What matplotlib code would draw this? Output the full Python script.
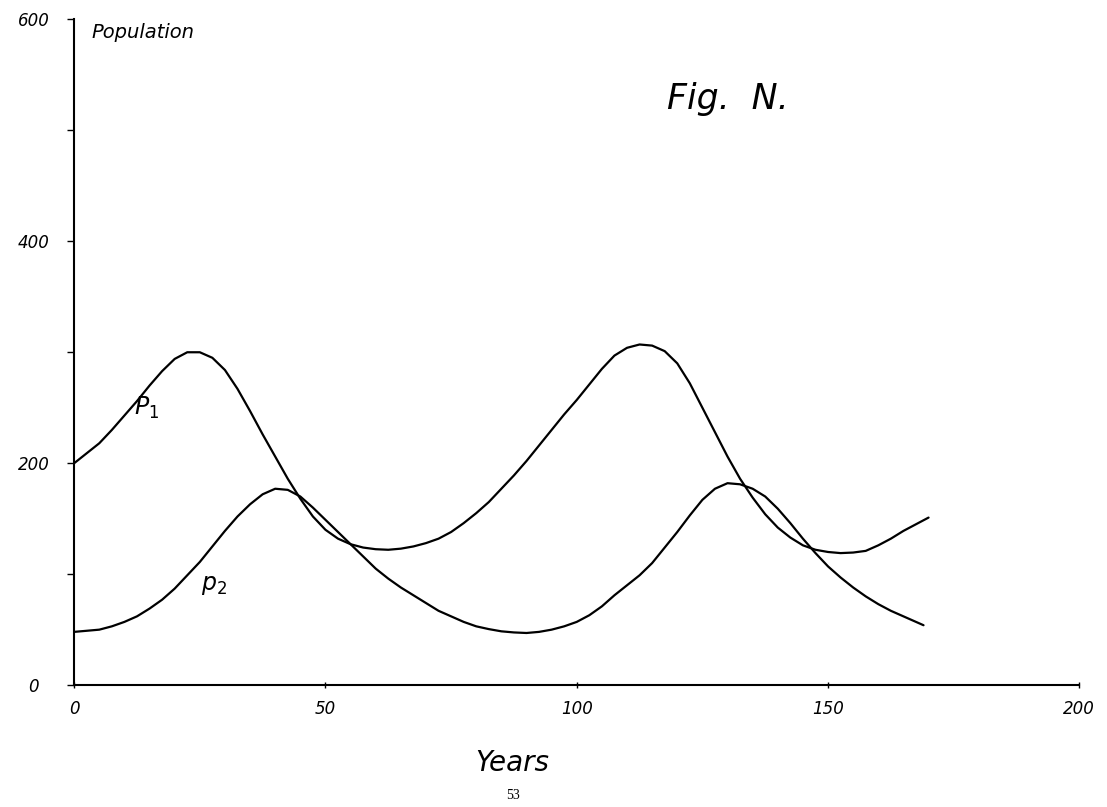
import numpy as np
import matplotlib.pyplot as plt

# ==================== 数据 ====================
p1_years = [0, 2.5, 5, 7.5, 10, 12.5, 15, 17.5, 20, 22.5, 25, 27.5, 30, 32.5, 35,
            37.5, 40, 42.5, 45, 47.5, 50, 52.5, 55, 57.5, 60, 62.5, 65, 67.5, 70,
            72.5, 75, 77.5, 80, 82.5, 85, 87.5, 90, 92.5, 95, 97.5, 100, 102.5,
            105, 107.5, 110, 112.5, 115, 117.5, 120, 122.5, 125, 127.5, 130,
            132.5, 135, 137.5, 140, 142.5, 145, 147.5, 150, 152.5, 155, 157.5,
            160, 162.5, 165, 167.5, 170]
p1_values = [200, 209, 218, 230, 243, 256, 270, 283, 294, 300, 300, 295, 284, 267,
             247, 226, 206, 186, 168, 152, 140, 132, 127, 124, 122.5, 122, 123,
             125, 128, 132, 138, 146, 155, 165, 177, 189, 202, 216, 230, 244, 257,
             271, 285, 297, 304, 307, 306, 301, 290, 272, 250, 228, 206, 186, 169,
             154, 142, 133, 126, 122, 120, 119, 119.5, 121, 126, 132, 139, 145, 151]

p2_years = [0, 2.5, 5, 7.5, 10, 12.5, 15, 17.5, 20, 22.5, 25, 27.5, 30, 32.5, 35,
            37.5, 40, 42.5, 45, 47.5, 50, 52.5, 55, 57.5, 60, 62.5, 65, 67.5, 70,
            72.5, 75, 77.5, 80, 82.5, 85, 87.5, 90, 92.5, 95, 97.5, 100, 102.5,
            105, 107.5, 110, 112.5, 115, 117.5, 120, 122.5, 125, 127.5, 130,
            132.5, 135, 137.5, 140, 142.5, 145, 147.5, 150, 152.5, 155, 157.5,
            160, 162.5, 165, 167.5, 169]
p2_values = [48, 49, 50, 53, 57, 62, 69, 77, 87, 99, 111, 125, 139, 152, 163, 172,
             177, 176, 170, 160, 149, 138, 127, 116, 105, 96, 88, 81, 74, 67, 62,
             57, 53, 50.5, 48.5, 47.5, 47, 48, 50, 53, 57, 63, 71, 81, 90, 99, 110,
             124, 138, 153, 167, 177, 182, 181, 177, 170, 159, 146, 132, 119, 107,
             97, 88, 80, 73, 67, 62, 57, 54]

x_ticks = [0, 50, 100, 150, 200]
y_ticks = [0, 100, 200, 300, 400, 500, 600]
y_labels = ['0', '', '200', '', '400', '', '600']

hand = {'family': 'DejaVu Sans', 'style': 'italic'}

fig = plt.figure(figsize=(11.07, 8.07), dpi=100)
ax = fig.add_axes([0.067, 0.151, 0.908, 0.825])

ax.plot(p1_years, p1_values, color='black', linewidth=1.6,
        solid_joinstyle='round', solid_capstyle='round')
ax.plot(p2_years, p2_values, color='black', linewidth=1.6,
        solid_joinstyle='round', solid_capstyle='round')

ax.set_xlim(0, 200)
ax.set_ylim(0, 600)
for side in ['top', 'right']:
    ax.spines[side].set_visible(False)
for side in ['left', 'bottom']:
    ax.spines[side].set_linewidth(1.5)

ax.set_xticks(x_ticks)
ax.set_xticklabels([str(t) for t in x_ticks], fontsize=12, **hand)
ax.set_yticks(y_ticks)
ax.set_yticklabels(y_labels, fontsize=12, **hand)
ax.tick_params(axis='y', direction='out', length=5, width=1, pad=24)
ax.tick_params(axis='x', direction='inout', length=5, width=1, pad=8)
for lab in ax.get_yticklabels():
    lab.set_horizontalalignment('center')

# 曲线标注
ax.text(12, 250, r'$P_1$', fontsize=17, ha='left', va='center')
ax.text(25.3, 90, r'$p_2$', fontsize=17, ha='left', va='center')

# 标题与坐标轴文字
ax.text(3.5, 588, 'Population', fontsize=14, ha='left', va='center', **hand)
ax.text(118, 528, 'Fig.  N.', fontsize=25, ha='left', va='center', **hand)
fig.text(0.463, 0.055, 'Years', fontsize=20, ha='center', va='center', **hand)
fig.text(0.463, 0.014, '53', fontsize=10, ha='center', va='center',
         family='Liberation Serif')

plt.savefig('out.png', dpi=100)
